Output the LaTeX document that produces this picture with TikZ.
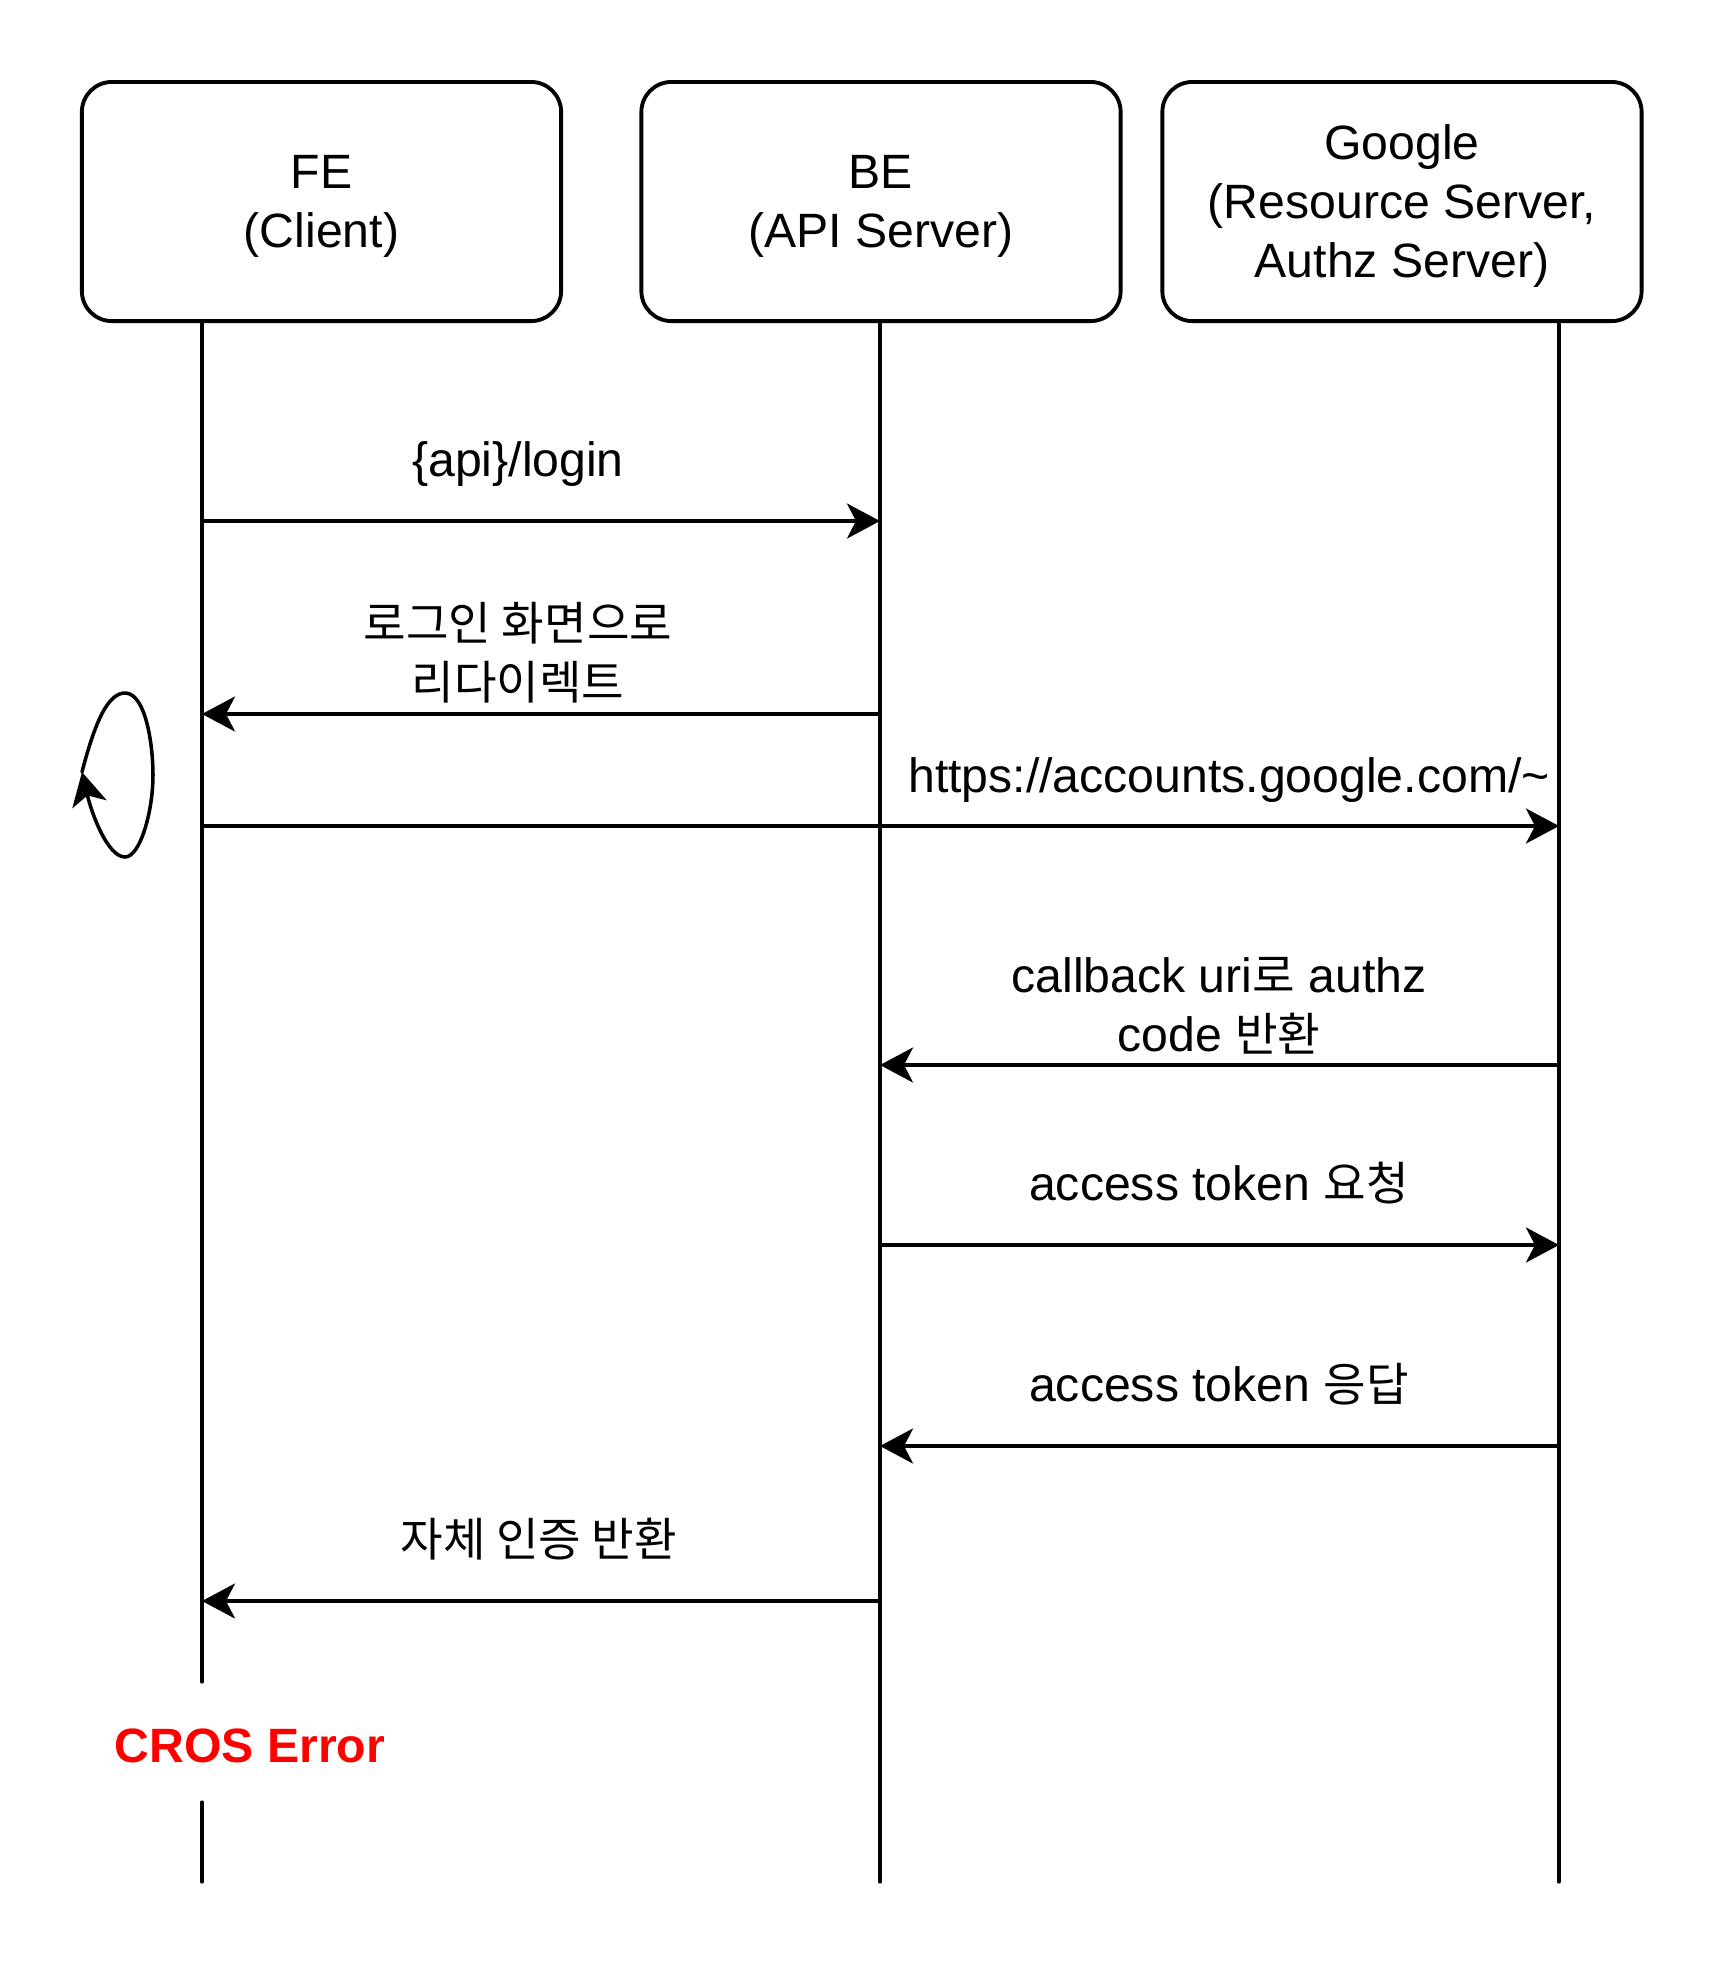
\documentclass[tikz,border=0pt]{standalone}
\usepackage{fontspec}
\setmainfont{Liberation Sans}
\newfontfamily\kr[Scale=0.96]{Noto Sans CJK KR}
\usetikzlibrary{arrows.meta}

\begin{document}
\begin{tikzpicture}[x=0.01cm,y=-0.01cm,line cap=round,line join=round,>={Stealth[length=3.3mm,width=3.5mm,inset=0.9mm]},
    every node/.style={font=\fontsize{13.7}{16.8}\selectfont},
    actor/.style={draw,line width=1.1pt,rounded corners=0.3cm,minimum width=4.79cm,minimum height=2.39cm,inner sep=0pt},
    actortext/.style={align=center,yshift=-0.045cm},
    msg/.style={->,line width=1pt},
    lbl/.style={align=center}]
        \useasboundingbox (0,0) rectangle (1728,1968);
        % actors
        \node[actor,label={[actortext]center:FE\\(Client)}] (fe) at (321.5,201.5) {};
        \node[actor,label={[actortext]center:BE\\(API Server)}] (be) at (881,201.5) {};
        \node[actor,label={[actortext]center:Google\\(Resource Server,\\Authz Server)}] (gg) at (1402,201.5) {};
        % lifelines
        \foreach \n/\x in {fe/202,be/880,gg/1559}
        {
          \coordinate (\n0) at (\x,321);
          \coordinate (\n9) at (\x,1882);
          \foreach \i/\y in {1/521,2/714,3/826,4/1065,5/1245,6/1446,7/1601}
          \coordinate (\n\i) at (\x,\y);
        }
        \coordinate (feA) at (202,1682);
        \coordinate (feB) at (202,1802);
        \draw[line width=0.9pt] (fe0) -- (feA);
        \draw[line width=0.9pt] (feB) -- (fe9);
        \draw[line width=0.9pt] (be0) -- (be9);
        \draw[line width=0.9pt] (gg0) -- (gg9);
        % messages
        \draw[msg] (fe1) -- (be1);
        \node (l1) at (518,464) {\{api\}/login};
        \draw[msg] (be2) -- (fe2);
        \node[lbl] (l2) at (518,653) {{\kr 로그인 화면으로}\\{\kr 리다이렉트}};
        \draw[msg] (fe3) -- (gg3);
        \node (l3) at (1229,780) {https://accounts.google.com/\textasciitilde};
        \draw[msg] (gg4) -- (be4);
        \node[lbl] (l4) at (1219,1006) {callback uri{\kr 로} authz\\code {\kr 반환}};
        \draw[msg] (be5) -- (gg5);
        \node (l5) at (1219,1183) {access token {\kr 요청}};
        \draw[msg] (gg6) -- (be6);
        \node (l6) at (1219,1384) {access token {\kr 응답}};
        \draw[msg] (be7) -- (fe7);
        \node (l7) at (539,1539) {{\kr 자체 인증 반환}};
        % self loop
        \coordinate (loop) at (82,772);
        \draw[msg] (loop) .. controls (95,722) and (108,692) .. (126,693)
          .. controls (146,695) and (153,745) .. (153,775)
          .. controls (153,812) and (140,857) .. (125,857)
          .. controls (108,857) and (92,815) .. (loop);
        \node[text=red,font=\fontsize{13.7}{16.8}\selectfont\bfseries] (err) at (250,1746) {CROS Error};
      \end{tikzpicture}
\end{document}
